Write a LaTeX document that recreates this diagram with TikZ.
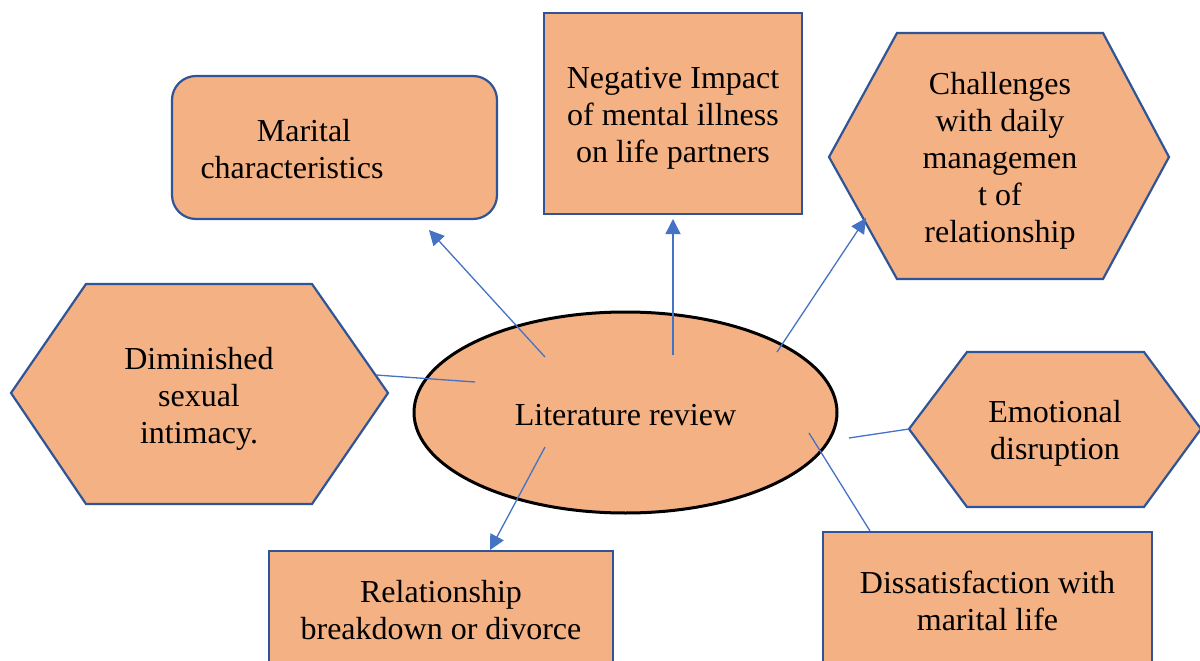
\documentclass[tikz,border=0pt]{standalone}
\usepackage{fontspec}
\setmainfont{Liberation Serif}
\usetikzlibrary{arrows.meta,shapes.geometric}
\definecolor{peach}{HTML}{F4B183}
\definecolor{edgeblue}{HTML}{2F5597}
\definecolor{linkblue}{HTML}{4472C4}

\begin{document}
\begin{tikzpicture}[x=1pt,y=-1pt,
    every node/.style={font=\fontsize{32}{37}\selectfont,align=center},
    box/.style={draw=edgeblue,fill=peach,line width=2.2pt,inner sep=0pt},
    hexa/.style={draw=edgeblue,fill=peach,line width=2.2pt},
    link/.style={draw=linkblue,line width=1.3pt},
    arrowlink/.style={link,-{Triangle[length=15pt,width=15pt]}}]
                    \useasboundingbox (0,0) rectangle (1200,661);

                    % boxes
                    \node[box,rounded corners=24pt,minimum width=325pt,minimum height=143pt] (maritalbox) at (334.5,147.5) {};
                    \node (marital) at (292,149) {\hspace*{24pt}Marital\\characteristics};
                    \node[box,minimum width=258pt,minimum height=201pt] (impact) at (673,113.5) {};
                    \node (impacttext) at (673,118) {Negative Impact\\of mental illness\\on life partners};
                    \node[box,minimum width=344pt,minimum height=118pt] (breakdown) at (441,610) {Relationship\\breakdown or divorce};
                    \node[box,minimum width=329pt,minimum height=138pt] (dissat) at (987.5,601) {Dissatisfaction with\\marital life};

                    % hexagons
                    \filldraw[hexa] (829,157) -- (897,33) -- (1103,33) -- (1169,157) -- (1103,279) -- (897,279) -- cycle;
                    \node (daily) at (1000,161) {Challenges\\with daily\\managemen\\t of\\relationship};
                    \filldraw[hexa] (11,393) -- (86,284) -- (312,284) -- (388,393) -- (312,504) -- (86,504) -- cycle;
                    \node (sexual) at (199,399) {Diminished\\sexual\\intimacy.};
                    \filldraw[hexa] (909,429) -- (967,352) -- (1144,352) -- (1201,429) -- (1144,507) -- (967,507) -- cycle;
                    \node (emotion) at (1055,433) {Emotional\\disruption};

                    \node[ellipse,draw=black,fill=peach,line width=3pt,minimum width=423pt,minimum height=201pt] (lit) at (625.5,412.5) {};
                    \node (littext) at (625.5,415) {Literature review};

                    % connectors
                    \coordinate (maritalS) at (545,357);
                    \coordinate (maritalT) at (429,230);
                    \coordinate (impactS) at (673,355);
                    \coordinate (impactT) at (673,219);
                    \coordinate (dailyS) at (777,352);
                    \coordinate (dailyT) at (866,218);
                    \coordinate (sexualS) at (475,382);
                    \coordinate (sexualT) at (376,375);
                    \coordinate (breakS) at (545,447);
                    \coordinate (breakT) at (490,550);
                    \coordinate (emotionS) at (849,438);
                    \coordinate (emotionT) at (909,429);
                    \coordinate (dissatS) at (809,433);
                    \coordinate (dissatT) at (870,531);

                    \draw[arrowlink] (maritalS) -- (maritalT);
                    \draw[arrowlink] (impactS) -- (impactT);
                    \draw[arrowlink] (dailyS) -- (dailyT);
                    \draw[arrowlink] (breakS) -- (breakT);
                    \draw[link] (sexualS) -- (sexualT);
                    \draw[link] (emotionS) -- (emotionT);
                    \draw[link] (dissatS) -- (dissatT);

                \end{tikzpicture}
\end{document}
